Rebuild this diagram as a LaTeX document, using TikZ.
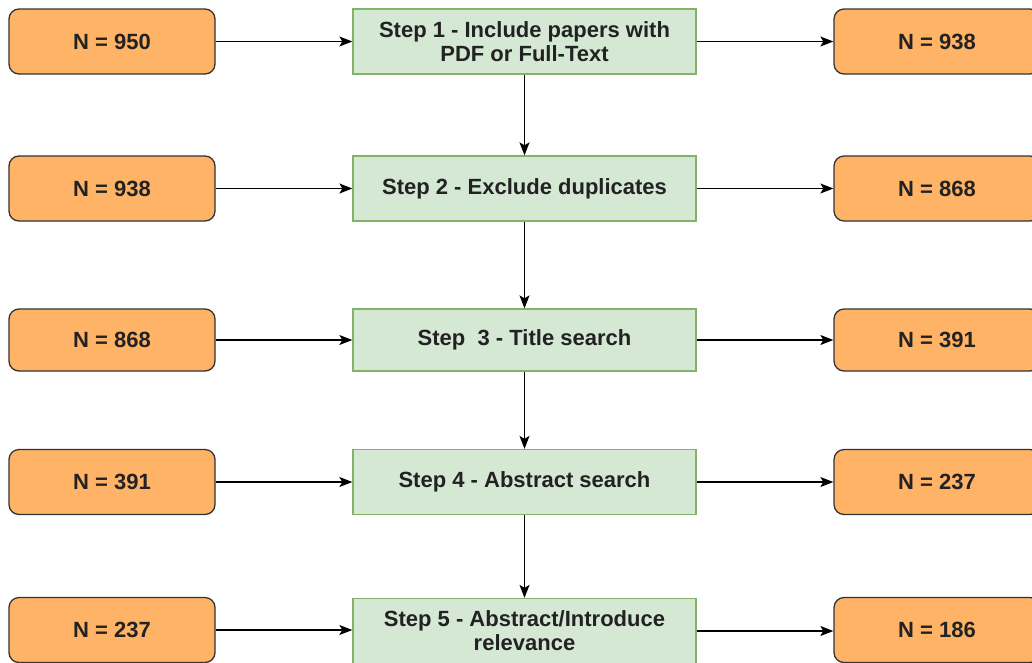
\documentclass[tikz,border=0pt]{standalone}
\usepackage{fontspec}
\setmainfont{Liberation Sans}
\usetikzlibrary{arrows.meta}
\definecolor{countfill}{HTML}{FFB366}
\definecolor{countdraw}{HTML}{333333}
\definecolor{stepfill}{HTML}{D5E8D4}
\definecolor{stepdraw}{HTML}{82B366}
\definecolor{txt}{HTML}{222222}
\begin{document}
\begin{tikzpicture}[x=1pt,y=-1pt,
  countbox/.style={draw=countdraw,fill=countfill,line width=1.3pt,rounded corners=10pt,
    minimum width=206pt,minimum height=65pt,inner sep=0pt,
    font=\fontsize{22}{24}\selectfont\bfseries,text=txt},
  stepbox/.style={draw=stepdraw,fill=stepfill,line width=1.3pt,
    minimum width=343pt,minimum height=65pt,inner sep=0pt,align=center,
    font=\fontsize{22}{24}\selectfont\bfseries,text=txt},
  flow/.style={-{Stealth[length=13pt,width=10pt,inset=3pt]},line width=1.3pt,black}]
\clip (0,0) rectangle (1032,662);
\fill[white] (0,0) rectangle (1032,662);
% rows: left count, step, right count
\node[countbox] (l1) at (112,41.5) {N = 950};
\node[stepbox]  (s1) at (524.5,41.5) {Step 1 - Include papers with\\PDF or Full-Text};
\node[countbox] (r1) at (937,41.5) {N = 938};

\node[countbox] (l2) at (112,188.5) {N = 938};
\node[stepbox]  (s2) at (524.5,188.5) {Step 2 - Exclude duplicates};
\node[countbox] (r2) at (937,188.5) {N = 868};

\node[countbox,minimum height=62pt] (l3) at (112,340) {N = 868};
\node[stepbox,minimum height=62pt]  (s3) at (524.5,340) {Step\ \ 3 - Title search};
\node[countbox,minimum height=62pt] (r3) at (937,340) {N = 391};

\node[countbox] (l4) at (112,482) {N = 391};
\node[stepbox]  (s4) at (524.5,482) {Step 4 - Abstract search};
\node[countbox] (r4) at (937,482) {N = 237};

\node[countbox] (l5) at (112,630) {N = 237};
\node[stepbox]  (s5) at (524.5,631) {Step 5 - Abstract/Introduce\\relevance};
\node[countbox] (r5) at (937,630) {N = 186};

% horizontal connectors
\foreach \i in {1,...,5} {
  \draw[flow] (l\i.east) -- (l\i.east -| s\i.west);
  \draw[flow] (s\i.east) -- (s\i.east -| r\i.west);
}
% vertical connectors
\draw[flow] (s1.south) -- (s2.north);
\draw[flow] (s2.south) -- (s3.north);
\draw[flow] (s3.south) -- (s4.north);
\draw[flow] (s4.south) -- (s5.north);
\end{tikzpicture}
\end{document}
